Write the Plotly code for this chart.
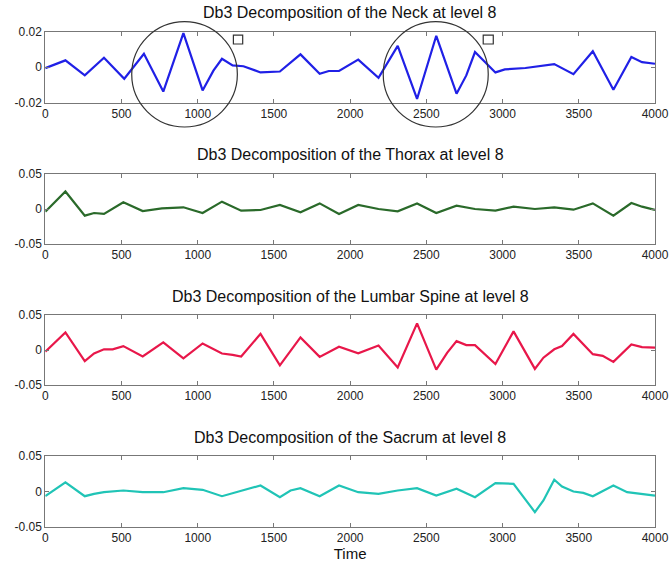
import plotly.graph_objects as go
from plotly.subplots import make_subplots

# Db3 level-8 approximations for four spinal segments
neck_t = [0, 132, 259, 385, 518, 647, 774, 906, 1032, 1103, 1159, 1229, 1300, 1412, 1539,
          1674, 1800, 1860, 1927, 2053, 2186, 2312, 2439, 2565, 2698, 2762, 2819, 2903,
          2953, 3015, 3150, 3339, 3465, 3592, 3727, 3845, 3915, 4000]
neck_v = [-0.0006, 0.0038, -0.0047, 0.0053, -0.0066, 0.0075, -0.0138, 0.0192, -0.0132,
          -0.002, 0.0047, 0.001, 0.0005, -0.003, -0.0025, 0.0072, -0.0038, -0.0022,
          -0.0022, 0.0042, -0.006, 0.012, -0.018, 0.0177, -0.015, -0.0047, 0.0085, 0.001,
          -0.003, -0.0013, -0.0005, 0.0017, -0.004, 0.009, -0.0128, 0.0057, 0.0028, 0.0019]

thorax_t = [0, 132, 259, 320, 385, 512, 639, 765, 906, 1032, 1159, 1285, 1412, 1539, 1674,
            1800, 1927, 2053, 2186, 2312, 2439, 2565, 2698, 2819, 2953, 3072, 3212, 3339,
            3465, 3592, 3727, 3845, 3915, 4000]
thorax_v = [-0.0038, 0.025, -0.0095, -0.0057, -0.007, 0.0095, -0.003, 0.001, 0.0024,
            -0.0057, 0.0105, -0.0024, -0.0014, 0.0057, -0.0048, 0.008, -0.007, 0.0057, 0.0,
            -0.0033, 0.008, -0.0057, 0.0048, 0.0, -0.0024, 0.0033, 0.0, 0.0024, -0.001,
            0.008, -0.0095, 0.0086, 0.0033, -0.0014]

lumbar_t = [0, 132, 259, 320, 385, 442, 512, 639, 774, 906, 1032, 1159, 1229, 1285, 1412,
            1539, 1674, 1800, 1927, 2053, 2186, 2312, 2439, 2565, 2636, 2698, 2762, 2819,
            2953, 3072, 3212, 3268, 3339, 3390, 3465, 3592, 3657, 3727, 3845, 3915, 4000]
lumbar_v = [-0.0023, 0.025, -0.016, -0.005, 0.001, 0.001, 0.0056, -0.0093, 0.011, -0.012,
            0.0093, -0.005, -0.007, -0.0093, 0.023, -0.022, 0.018, -0.0098, 0.0047, -0.0047,
            0.0065, -0.025, 0.038, -0.028, -0.004, 0.0126, 0.007, 0.007, -0.02, 0.0266,
            -0.027, -0.011, 0.001, 0.0056, 0.023, -0.006, -0.0084, -0.017, 0.008, 0.0042,
            0.0033]

sacrum_t = [0, 132, 259, 320, 385, 512, 639, 774, 906, 1032, 1159, 1285, 1412, 1539, 1609,
            1674, 1800, 1927, 2053, 2186, 2312, 2439, 2565, 2698, 2819, 2953, 3015, 3072,
            3212, 3268, 3339, 3390, 3465, 3530, 3592, 3727, 3817, 3915, 4000]
sacrum_v = [-0.0066, 0.013, -0.0066, -0.0033, -0.001, 0.0014, -0.001, -0.001, 0.0047,
            0.0024, -0.0066, 0.0014, 0.0085, -0.008, 0.0014, 0.0047, -0.0066, 0.0085,
            -0.001, -0.0033, 0.0014, 0.0047, -0.0057, 0.0038, -0.008, 0.0118, 0.0108, 0.0108,
            -0.029, -0.0127, 0.0165, 0.007, 0.0, -0.002, -0.0066, 0.0085, -0.001, -0.0033,
            -0.0057]

titles = ["Db3 Decomposition of the Neck at level 8",
          "Db3 Decomposition of the Thorax at level 8",
          "Db3 Decomposition of the Lumbar Spine at level 8",
          "Db3 Decomposition of the Sacrum at level 8"]
colors = ["#2020e6", "#2a6a2a", "#e8174a", "#20c4b6"]

x_ticks = [0, 500, 1000, 1500, 2000, 2500, 3000, 3500, 4000]
y_ticks_neck = [-0.02, 0, 0.02]
y_ticks_neck_text = ["-0.02", "0", "0.02"]
y_ticks_other = [-0.05, 0, 0.05]
y_ticks_other_text = ["-0.05", "0", "0.05"]

# highlighted regions on the neck panel (time spans) and marker squares
ring_spans = [(567, 1260), (2217, 2906)]
square_spans = [(1234, 1295), (2873, 2939)]

W, H = 670, 566
x_left, x_right = 45.3, 655.0
panel_px = [(31.7, 102.5), (174.0, 244.0), (315.0, 385.0), (456.0, 527.0)]

fig = make_subplots(rows=4, cols=1)

series = [(neck_t, neck_v), (thorax_t, thorax_v), (lumbar_t, lumbar_v), (sacrum_t, sacrum_v)]
font = "Liberation Sans, Arial, sans-serif"

for i, ((t, v), col) in enumerate(zip(series, colors)):
    r = i + 1
    fig.add_trace(go.Scatter(x=t, y=v, mode="lines", line=dict(color=col, width=2.2),
                             showlegend=False, hoverinfo="skip"), row=r, col=1)
    top, bot = panel_px[i]
    ydom = [1 - bot / H, 1 - top / H]
    xdom = [x_left / W, x_right / W]
    sfx = "" if r == 1 else str(r)
    if i == 0:
        yv, yt, yr = y_ticks_neck, y_ticks_neck_text, [-0.02, 0.02]
    else:
        yv, yt, yr = y_ticks_other, y_ticks_other_text, [-0.05, 0.05]
    fig.layout["xaxis" + sfx].update(
        domain=xdom, range=[0, 4000], tickvals=x_ticks, ticktext=[str(x) for x in x_ticks],
        ticks="inside", ticklen=4, tickcolor="#777", showline=True, linecolor="#777",
        linewidth=1, mirror="allticks", showgrid=False, zeroline=False,
        tickfont=dict(family=font, size=12, color="#222"), automargin=False)
    fig.layout["yaxis" + sfx].update(
        domain=ydom, range=yr, tickvals=yv, ticktext=yt,
        ticks="inside", ticklen=4, tickcolor="#777", showline=True, linecolor="#777",
        linewidth=1, mirror="allticks", showgrid=False, zeroline=False,
        tickfont=dict(family=font, size=12, color="#222"), automargin=False)
    fig.add_annotation(text=titles[i], xref="paper", yref="paper",
                       x=(x_left + x_right) / 2 / W, y=1 - (top - 19) / H,
                       showarrow=False, font=dict(family=font, size=16, color="#111"),
                       xanchor="center", yanchor="middle")

fig.layout.xaxis4.title = dict(text="Time", font=dict(family=font, size=15, color="#111"),
                               standoff=2)

# circles and squares drawn over the neck panel
for a, b in ring_spans:
    fig.add_shape(type="circle", xref="x domain", yref="y domain",
                  x0=a / 4000, x1=b / 4000, y0=-0.346, y1=1.141,
                  line=dict(color="#333", width=1.2))
for a, b in square_spans:
    fig.add_shape(type="rect", xref="x domain", yref="y domain",
                  x0=a / 4000, x1=b / 4000, y0=0.826, y1=0.953,
                  line=dict(color="#333", width=1.2), fillcolor="white")

fig.update_layout(width=W, height=H, margin=dict(l=0, r=0, t=0, b=0),
                  paper_bgcolor="white", plot_bgcolor="white")

fig.write_html("out.html")
